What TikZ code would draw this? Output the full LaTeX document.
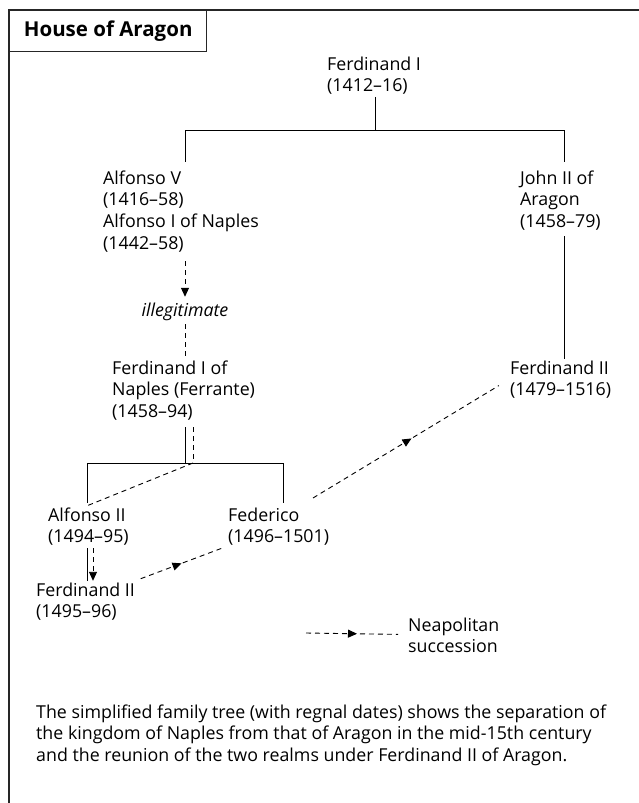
\documentclass[tikz,border=0pt]{standalone}
\usepackage{fontspec}
\setmainfont{Open Sans}
\usetikzlibrary{arrows.meta,decorations.markings}
\begin{document}
\begin{tikzpicture}[x=1pt,y=-1pt,
  txt/.style={anchor=north west, inner sep=0pt, align=left, font=\fontsize{17.8}{21.7}\selectfont},
  tree/.style={line width=0.9pt},
  succ/.style={line width=0.9pt, dash pattern=on 5pt off 4pt},
  tip/.style={-{Triangle[length=9pt,width=8pt]}},
  midtip/.style={postaction={decorate}, decoration={markings, mark=at position 0.5 with {\arrow{Triangle[length=9pt,width=8pt]}}}}
]
\useasboundingbox (0,0) rectangle (639,803);
\fill[white] (0,0) rectangle (639,803);
\draw[line width=1.4pt, black!85] (639,10) -- (9,10) -- (9,803);
\node[draw=black!85, line width=1.4pt, anchor=north west, minimum width=197pt, minimum height=41pt, inner sep=0pt, font=\bfseries\fontsize{20.5}{24}\selectfont] (title) at (9,10) {House of Aragon};

% people
\node[txt] (f1) at (327,54.8) {\strut Ferdinand I\\(1412–16)};
\node[txt] (a5) at (103,168.8) {\strut Alfonso V\\(1416–58)\\Alfonso I of Naples\\(1442–58)};
\node[inner sep=0pt, anchor=base, font=\itshape\fontsize{17.8}{21.7}\selectfont] (ill) at (185,316) {illegitimate};
\node[txt] (fn) at (112,358.8) {\strut Ferdinand I of\\Naples (Ferrante)\\(1458–94)};
\node[txt] (a2) at (48,505.8) {\strut Alfonso II\\(1494–95)};
\node[txt] (f2n) at (36,580.8) {\strut Ferdinand II\\(1495–96)};
\node[txt] (fed) at (228,505.8) {\strut Federico\\(1496–1501)};
\node[txt] (jn) at (520,168.8) {\strut John II of\\Aragon\\(1458–79)};
\node[txt] (f2a) at (510,358.8) {\strut Ferdinand II\\(1479–1516)};
\node[txt] (leg) at (408,615.8) {\strut Neapolitan\\succession};
\node[txt] (cap) at (36,702.8) {\strut The simplified family tree (with regnal dates) shows the separation of\\the kingdom of Naples from that of Aragon in the mid-15th century\\and the reunion of the two realms under Ferdinand II of Aragon.};

% junctions
\coordinate (j1) at (375,130);
\coordinate (jl) at (185,130);
\coordinate (jr) at (564,130);
\coordinate (k) at (185,463);
\coordinate (kd) at (193,463);
\coordinate (kl) at (87,463);
\coordinate (kr) at (283,463);
\coordinate (ad) at (93,463);
\coordinate (fs) at (313,498);
\coordinate (l1) at (306,633);

% tree lines
\draw[tree, shorten <=2pt] (j1 |- f1.south) -- (j1);
\draw[tree] (jl) -- (jr);
\draw[tree, shorten >=7pt] (jl) -- (jl |- a5.north);
\draw[tree, shorten >=7pt] (jr) -- (jr |- jn.north);
\draw[tree, shorten <=5.5pt] (jr |- jn.south) -- (jr |- f2a.north);
\draw[tree, shorten <=6.5pt] (k |- fn.south) -- (k);
\draw[tree] (kl) -- (kr);
\draw[tree, shorten >=2.8pt] (kl) -- (kl |- a2.north);
\draw[tree, shorten >=2.8pt] (kr) -- (kr |- fed.north);
\draw[tree, shorten <=2.5pt] (kl |- a2.south) -- (kl |- f2n.north);

% Neapolitan succession
\draw[succ, tip, shorten <=9pt, shorten >=5.5pt] (jl |- a5.south) -- (ill.north);
\draw[succ, shorten <=4pt, shorten >=1pt] (ill.south) -- (jl |- fn.north);
\draw[succ, shorten <=6.5pt] (kd |- fn.south) -- (kd);
\draw[succ] (kd) -- (kl |- a2.north);
\draw[succ, tip, shorten <=2.5pt] (ad |- a2.south) -- (ad |- f2n.north);
\draw[succ, midtip, shorten <=6pt, shorten >=6pt] (f2n.north east) -- (fed.south west);
\draw[succ, midtip, shorten >=13pt] (fs) -- (f2a.west);
\draw[succ, midtip, shorten >=10pt] (l1) -- (leg.west);
\end{tikzpicture}
\end{document}
